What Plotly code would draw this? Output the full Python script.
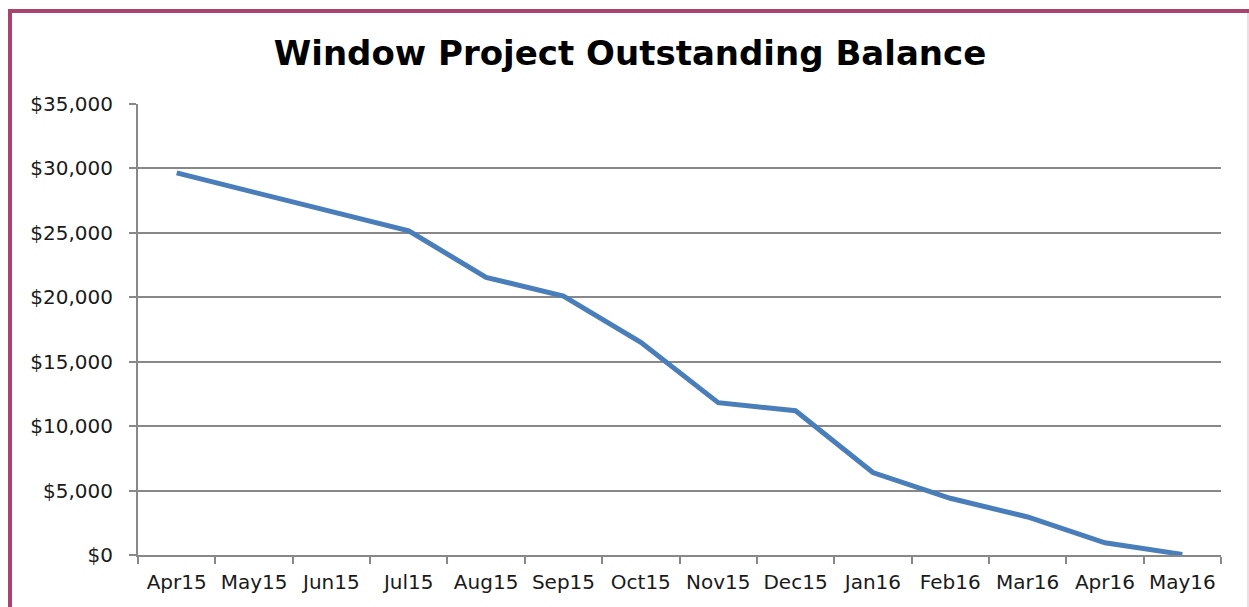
import plotly.graph_objects as go

months = ["Apr15", "May15", "Jun15", "Jul15", "Aug15", "Sep15", "Oct15",
          "Nov15", "Dec15", "Jan16", "Feb16", "Mar16", "Apr16", "May16"]
balance = [29650, 28150, 26650, 25150, 21550, 20100, 16500,
           11820, 11200, 6400, 4400, 2950, 950, 50]
y_ticks = [0, 5000, 10000, 15000, 20000, 25000, 30000, 35000]
y_labels = ["$0", "$5,000", "$10,000", "$15,000", "$20,000", "$25,000", "$30,000", "$35,000"]

W, H = 1249, 607
L, R, T, B = 138, 28, 104, 52
pw, ph = W - L - R, H - T - B

def px(x):
    return (x - L) / pw

def py(y):
    return (H - B - y) / ph

fig = go.Figure()
fig.add_trace(go.Scatter(x=months, y=balance, mode="lines",
                         line=dict(color="#4A7EBB", width=5),
                         hoverinfo="x+y", showlegend=False))

grid = "#888888"
font = "DejaVu Sans, sans-serif"
fig.update_layout(
    width=W, height=H,
    margin=dict(l=L, r=R, t=T, b=B),
    paper_bgcolor="white", plot_bgcolor="white",
    title=dict(text="<b>Window Project Outstanding Balance</b>",
               x=630 / W, xanchor="center", y=1 - 53 / H, yanchor="middle",
               font=dict(family=font, size=34, color="black")),
    xaxis=dict(type="category", range=[-0.5, 13.5], tickson="boundaries",
               ticks="outside", ticklen=7, tickwidth=2, tickcolor=grid,
               showline=True, linecolor=grid, linewidth=2, showgrid=False,
               ticklabelstandoff=8,
               tickfont=dict(family=font, size=20, color="#1a1a1a")),
    yaxis=dict(range=[0, 35000], tickvals=y_ticks, ticktext=y_labels,
               ticks="outside", ticklen=7, tickwidth=2, tickcolor=grid,
               showline=True, linecolor=grid, linewidth=2,
               showgrid=True, gridcolor=grid, gridwidth=2, zeroline=False,
               ticklabelstandoff=12,
               tickfont=dict(family=font, size=20, color="#1a1a1a")),
)

maroon = "#A9446F"
fig.add_shape(type="line", xref="paper", yref="paper",
              x0=px(8), x1=px(1249), y0=py(11), y1=py(11),
              line=dict(color=maroon, width=4))
fig.add_shape(type="line", xref="paper", yref="paper",
              x0=px(10), x1=px(10), y0=py(9), y1=py(607),
              line=dict(color=maroon, width=4))
fig.add_shape(type="line", xref="paper", yref="paper",
              x0=px(1248), x1=px(1248), y0=py(13), y1=py(607),
              line=dict(color="#E2B9CB", width=1))

fig.write_html("out.html", config={"displayModeBar": False},
               post_script="document.body.style.margin='0';document.body.style.overflow='hidden';")
